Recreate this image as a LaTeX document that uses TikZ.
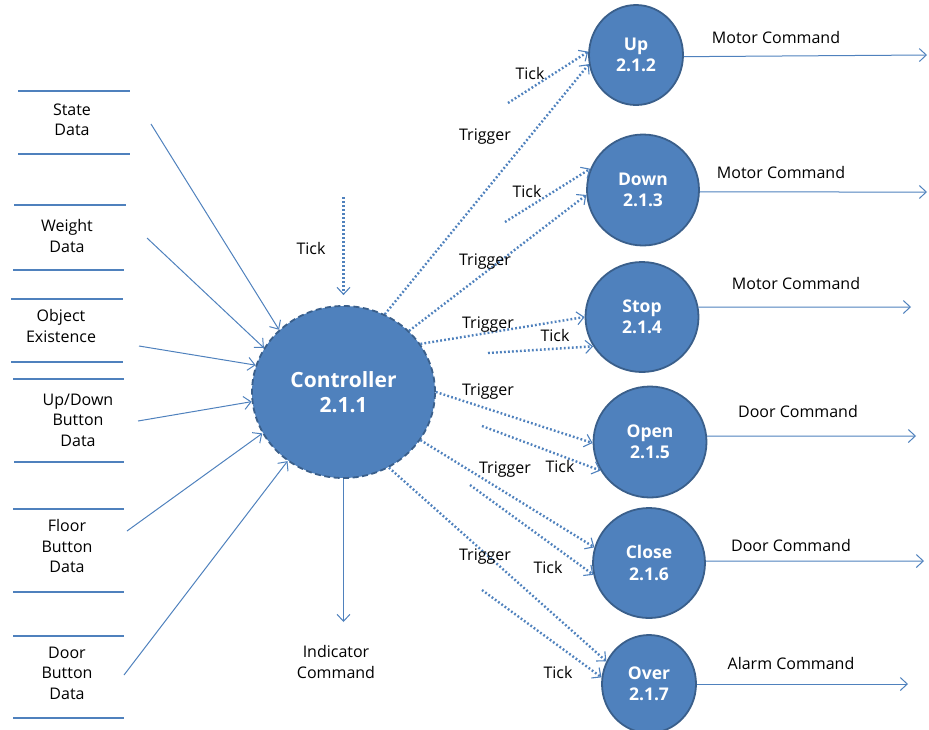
\documentclass[tikz,border=0pt]{standalone}
\usepackage{fontspec}
\setmainfont{Open Sans}
\usetikzlibrary{arrows.meta,shapes.geometric}
\definecolor{procfill}{HTML}{4F81BD}
\definecolor{procline}{HTML}{3A5F8B}
\definecolor{flow}{HTML}{4F81BD}
\tikzset{
  proc/.style={ellipse, fill=procfill, draw=procline, line width=1.8pt,
    text=white, font=\fontsize{17.5}{21.5}\selectfont\bfseries, align=center, inner sep=0pt},
  ctrlproc/.style={proc, dashed, dash pattern=on 6pt off 3.5pt,
    font=\fontsize{21}{25}\selectfont\bfseries},
  lbl/.style={font=\fontsize{16}{20.5}\selectfont, text=black, inner sep=0pt, align=center},
  storeline/.style={draw=flow, line width=1.8pt},
  dataflow/.style={draw=flow, line width=1pt, -{Straight Barb[length=7pt,width=13pt,line width=1pt]}},
  ctrlflow/.style={draw=flow, line width=2.4pt, dash pattern=on 1.8pt off 2.2pt,
    -{Straight Barb[length=7pt,width=13pt,line width=1.1pt]}}
}
\begin{document}
\begin{tikzpicture}[x=1pt,y=-1pt]
\useasboundingbox (0,0) rectangle (929,729);

% processes
\node[ctrlproc, minimum width=183pt, minimum height=172pt] (ctrl) at (343.5,392) {Controller\\2.1.1};
\node[proc, minimum width=94pt, minimum height=100pt] (up) at (636,55) {Up\\2.1.2};
\node[proc, minimum width=112pt, minimum height=111pt] (down) at (643,190) {Down\\2.1.3};
\node[proc, minimum width=113pt, minimum height=110pt] (stop) at (642,317) {Stop\\2.1.4};
\node[proc, minimum width=113pt, minimum height=111pt] (open) at (650,442) {Open\\2.1.5};
\node[proc, minimum width=112pt, minimum height=110pt] (close) at (649,563) {Close\\2.1.6};
\node[proc, minimum width=94pt, minimum height=98pt] (over) at (649,684) {Over\\2.1.7};

% data stores
\draw[storeline] (18,91) -- (130,91) (18,154) -- (130,154);
\node[lbl] (sState) at (72,120) {State\\Data};
\draw[storeline] (14,205) -- (126,205) (13,270) -- (124,270);
\node[lbl] (sWeight) at (67,236) {Weight\\Data};
\draw[storeline] (11,299) -- (123,299) (11,362) -- (123,362);
\node[lbl] (sObject) at (61,326) {Object\\Existence};
\draw[storeline] (13,379) -- (124,379) (14,462) -- (124,462);
\node[lbl] (sUpDown) at (78,420) {Up/Down\\Button\\Data};
\draw[storeline] (13,509) -- (124,509) (13,592) -- (124,592);
\node[lbl] (sFloor) at (67,546) {Floor\\Button\\Data};
\draw[storeline] (13,636) -- (124,636) (13,718) -- (124,718);
\node[lbl] (sDoor) at (67,673) {Door\\Button\\Data};

% data flows into the controller
\coordinate (inState) at (151,124);
\coordinate (inWeight) at (147,238);
\coordinate (inObject) at (139,346);
\coordinate (inUpDown) at (138,421);
\coordinate (inFloor) at (127,531);
\coordinate (inDoor) at (124,675);
\draw[dataflow] (inState) -- (ctrl.136.6);
\draw[dataflow] (inWeight) -- (ctrl.151);
\draw[dataflow] (inObject) -- (ctrl.163.7);
\draw[dataflow] (inUpDown) -- (ctrl.186.7);
\draw[dataflow] (inFloor) -- (ctrl.207.5);
\draw[dataflow] (inDoor) -- (ctrl.231);

% clock into the controller, indicator out
\coordinate (tickIn) at (343.5,197);
\draw[ctrlflow] (tickIn) -- ([yshift=10pt]ctrl.north);
\node[lbl] (tTick) at (311,248) {Tick};
\coordinate (indOut) at (343.5,622);
\draw[dataflow] (ctrl.south) -- (indOut);
\node[lbl] (tInd) at (336,662) {Indicator\\Command};

% triggers from the controller
\draw[ctrlflow] (ctrl.62.9) -- (up.191.8);
\draw[ctrlflow] (ctrl.43.5) -- (down.185.2);
\draw[ctrlflow] (ctrl.32) -- (stop.180);
\draw[ctrlflow] (ctrl.0) -- (open.181);
\draw[ctrlflow] (ctrl.-32.2) -- (close.164);
\draw[ctrlflow] (ctrl.-59.8) -- (over.152);

% ticks into the sub-processes
\coordinate (tkUp) at (508,103);
\coordinate (tkDown) at (505,222);
\coordinate (tkStop) at (488,353);
\coordinate (tkOpen) at (482,426);
\coordinate (tkClose) at (470,485);
\coordinate (tkOver) at (482,590);
\draw[ctrlflow] (tkUp) -- (up.176.4);
\draw[ctrlflow] (tkDown) -- (down.158.2);
\draw[ctrlflow] (tkStop) -- (stop.211.9);
\draw[ctrlflow] (tkOpen) -- (open.210);
\draw[ctrlflow] (tkClose) -- (close.192);
\draw[ctrlflow] (tkOver) -- (over.172.7);

\node[lbl] at (530,73) {Tick};
\node[lbl] at (485,137) {Trigger};
\node[lbl] at (527,191) {Tick};
\node[lbl] at (485,262) {Trigger};
\node[lbl] at (488,325) {Trigger};
\node[lbl] at (555,335) {Tick};
\node[lbl] at (488,392) {Trigger};
\node[lbl] at (560,466) {Tick};
\node[lbl] at (505,470) {Trigger};
\node[lbl] at (548,567) {Tick};
\node[lbl] at (485,557) {Trigger};
\node[lbl] at (558,672) {Tick};

% commands out of the sub-processes
\coordinate (oUp) at (927,55);
\coordinate (oDown) at (927,192);
\coordinate (oStop) at (911,307);
\coordinate (oOpen) at (916,436);
\coordinate (oClose) at (924,561);
\coordinate (oOver) at (908,684);
\draw[dataflow] (up.-2) -- (oUp);
\draw[dataflow] (down.-2) -- (oDown);
\draw[dataflow] (stop.10) -- (oStop);
\draw[dataflow] (open.6) -- (oOpen);
\draw[dataflow] (close.2) -- (oClose);
\draw[dataflow] (over.0) -- (oOver);
\node[lbl] at (776,37) {Motor Command};
\node[lbl] at (781,172) {Motor Command};
\node[lbl] at (796,283) {Motor Command};
\node[lbl] at (798,411) {Door Command};
\node[lbl] at (791,545) {Door Command};
\node[lbl] at (791,663) {Alarm Command};
\end{tikzpicture}
\end{document}
